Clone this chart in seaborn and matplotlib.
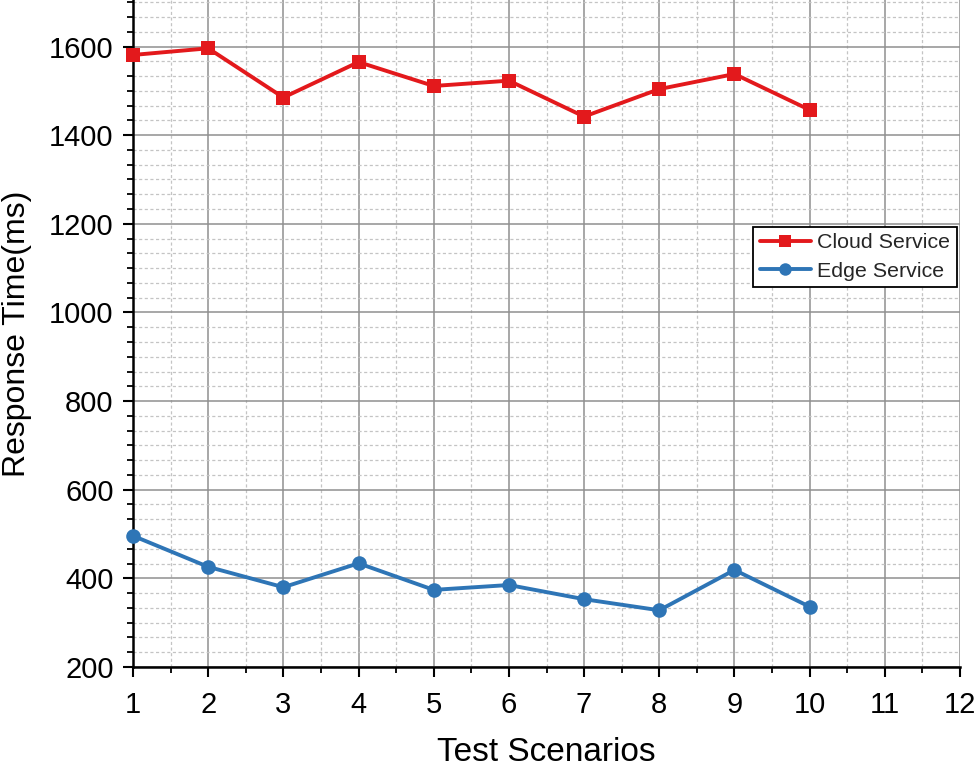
import numpy as np
import pandas as pd
import matplotlib
matplotlib.use("Agg")
import matplotlib.pyplot as plt
from matplotlib.ticker import MultipleLocator
import seaborn as sns

scenarios = [1, 2, 3, 4, 5, 6, 7, 8, 9, 10]
cloud_service = [1581, 1596, 1485, 1565, 1511, 1523, 1442, 1504, 1538, 1457]
edge_service = [496, 426, 380, 434, 374, 385, 353, 328, 419, 336]
series_names = ["Cloud Service", "Edge Service"]
x_ticks = list(range(1, 13))
y_ticks = [200, 400, 600, 800, 1000, 1200, 1400, 1600]

df = pd.DataFrame({
    "Scenario": scenarios * 2,
    "Response": cloud_service + edge_service,
    "Series": [series_names[0]] * len(scenarios) + [series_names[1]] * len(scenarios),
})

sns.set_theme(style="white")
plt.rcParams["font.family"] = ["Liberation Sans", "DejaVu Sans"]

fig = plt.figure(figsize=(9.75, 7.67), dpi=100)
ax = fig.add_axes([133 / 975, 1 - 667 / 767, 827 / 975, 667 / 767])

palette = {"Cloud Service": "#e3191c", "Edge Service": "#2e75b6"}
markers = {"Cloud Service": "s", "Edge Service": "o"}
sns.lineplot(data=df, x="Scenario", y="Response", hue="Series", style="Series",
             palette=palette, markers=markers, dashes=False, linewidth=2.8,
             markersize=10.5, markeredgewidth=0, ax=ax, clip_on=False, zorder=5)

ax.set_xlim(1, 12)
ax.set_ylim(200, 1705)
ax.set_xticks(x_ticks)
ax.set_yticks(y_ticks)
ax.xaxis.set_minor_locator(MultipleLocator(0.5))
ax.yaxis.set_minor_locator(MultipleLocator(200 / 6))

ax.grid(which="major", color="#8f8f8f", linewidth=1.1, linestyle="-")
ax.grid(which="minor", color="#c4c4c4", linewidth=0.9, linestyle=(0, (2.5, 2)))
ax.set_axisbelow(True)

for side in ["top", "right"]:
    ax.spines[side].set_visible(False)
for side in ["left", "bottom"]:
    ax.spines[side].set_color("black")
    ax.spines[side].set_linewidth(1.8)

ax.tick_params(which="major", direction="out", length=7, width=1.5, color="black",
               labelsize=21, labelcolor="black", bottom=True, left=True, pad=7)
ax.tick_params(which="major", axis="x", pad=10)
ax.tick_params(which="minor", direction="out", length=4.5, width=1.3, color="black",
               bottom=True, left=True)

ax.set_xlabel("Test Scenarios", fontsize=24, color="black", labelpad=13)
ax.set_ylabel("Response Time(ms)", fontsize=23, color="black", labelpad=12)

leg = ax.legend(loc="upper right", bbox_to_anchor=(0.996, 0.66), borderaxespad=0,
                fontsize=15.4, frameon=True, fancybox=False, handlelength=2.4,
                handletextpad=0.3, borderpad=0.3, labelspacing=0.45)
leg.get_frame().set_edgecolor("black")
leg.get_frame().set_linewidth(1.3)
leg.get_frame().set_facecolor("white")
leg.get_frame().set_alpha(1)
for h in leg.legend_handles:
    h.set_markersize(9)
    h.set_linewidth(2.8)

fig.savefig("out.png", dpi=100)
